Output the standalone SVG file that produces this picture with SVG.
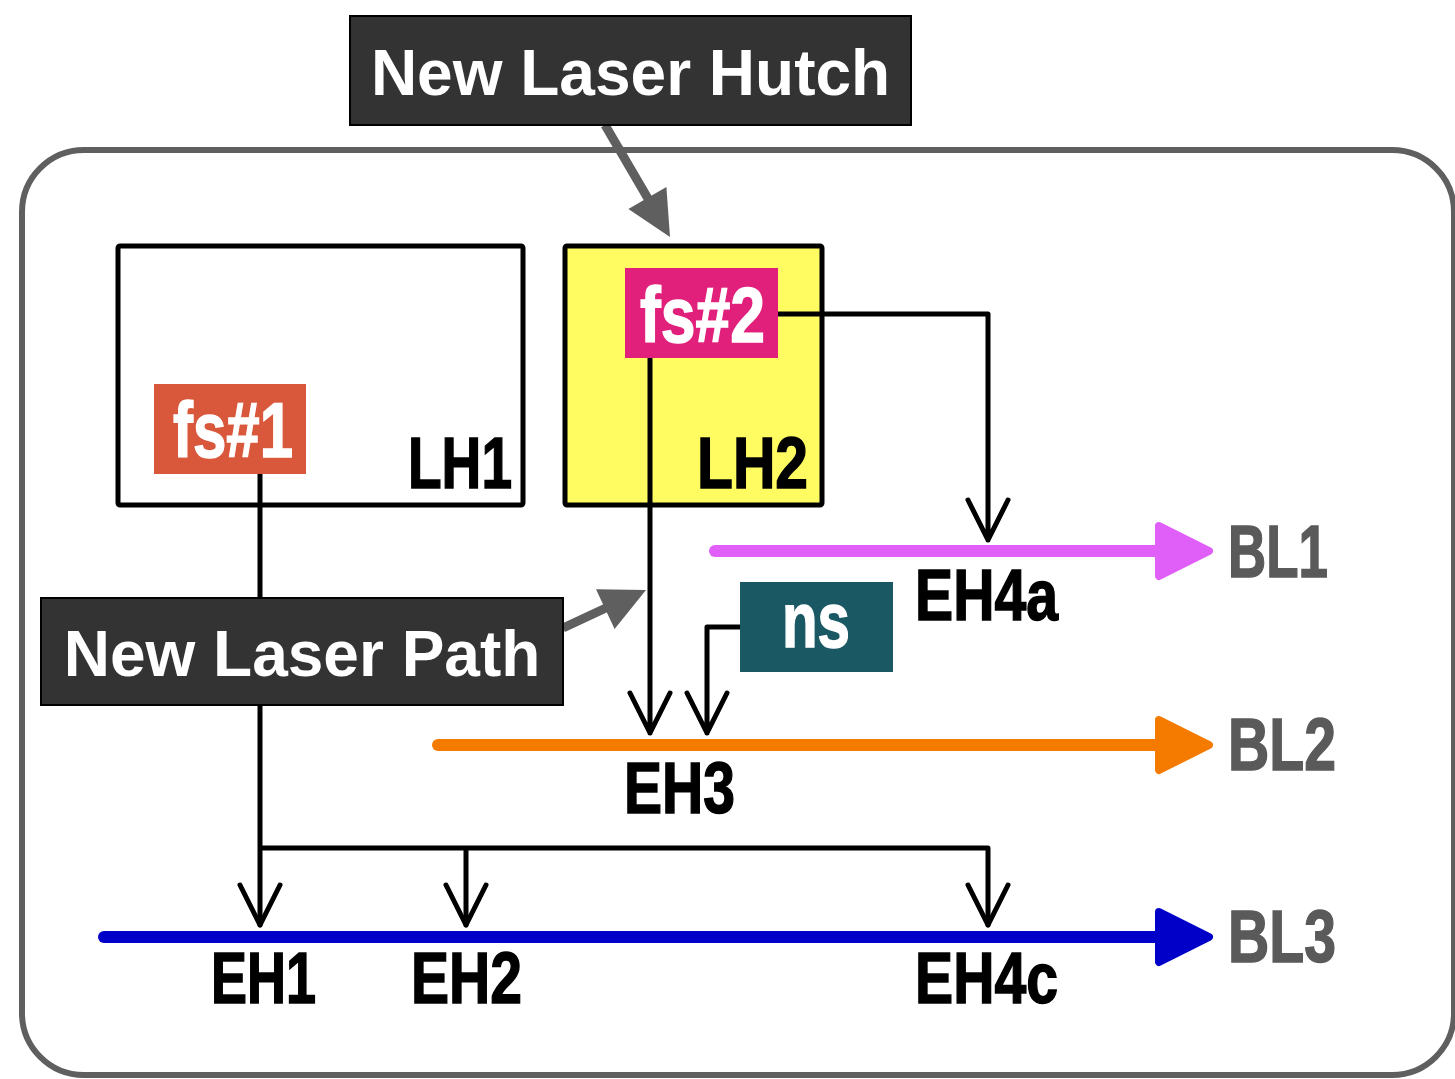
<svg xmlns="http://www.w3.org/2000/svg" width="1455" height="1079" viewBox="0 0 1455 1079">
<defs>
<style>
.frame{fill:none;stroke:#5f5f5f;stroke-width:6}
.hutch{stroke:#000;stroke-width:5}
.dark{fill:#333333;stroke:#000;stroke-width:2}
.w{fill:#fff;font-family:"Liberation Sans",Arial,sans-serif;font-weight:bold}
.c{font-family:"Liberation Sans",Arial,sans-serif;font-weight:bold;stroke-width:1.5}
.cw{stroke:#fff}
.blk{fill:#000;stroke:#000}
.gry{fill:#5a5a5a;stroke:#5a5a5a}
.ln{fill:none;stroke:#000;stroke-width:5;stroke-linecap:round;stroke-linejoin:round}
.ga{stroke:#5f5f5f;stroke-width:9;fill:none}
.gh{fill:#5f5f5f}
.bl{stroke-width:12;stroke-linecap:round;fill:none}
.bh{stroke-width:8;stroke-linejoin:round}
</style>
</defs>
<rect class="frame" x="22" y="150" width="1432" height="925" rx="62" ry="62"/>

<g id="LH1">
<rect class="hutch" x="118" y="246" width="405" height="259" rx="2" fill="#ffffff"/>
<text class="c blk" x="408" y="488" font-size="72" textLength="104" lengthAdjust="spacingAndGlyphs">LH1</text>
</g>
<g id="LH2">
<rect class="hutch" x="565" y="246" width="257" height="259" rx="2" fill="#fffc62"/>
<text class="c blk" x="697" y="488" font-size="72" textLength="111" lengthAdjust="spacingAndGlyphs">LH2</text>
</g>

<g id="connectors">
<!-- fs#1 to EH1, EH2, EH4c -->
<path class="ln" d="M260 474 V925 M260 848 H988 V925 M466 848 V925"/>
<path class="ln" d="M240 885 L260 925 L280 885 M446 885 L466 925 L486 885 M968 885 L988 925 L1008 885"/>
<!-- fs#2 to EH4a -->
<path class="ln" d="M778 314 H988 V540 M968 500 L988 540 L1008 500"/>
<!-- fs#2 to EH3 -->
<path class="ln" d="M650 358 V733 M630 693 L650 733 L670 693"/>
<!-- ns to EH3 -->
<path class="ln" d="M740 627 H707 V733 M687 693 L707 733 L727 693"/>
<!-- gray annotation arrows -->
<line class="ga" x1="605" y1="125" x2="650" y2="202"/>
<polygon class="gh" points="670,237 666.4,187.1 628.4,209.1"/>
<line class="ga" x1="563" y1="628" x2="608" y2="607"/>
<polygon class="gh" points="646,590 596,589.2 614.6,629"/>
<!-- beamlines -->
<line class="bl" stroke="#e05ff8" x1="715" y1="551" x2="1165" y2="551"/>
<polygon class="bh" fill="#e05ff8" stroke="#e05ff8" points="1159,526 1209,551 1159,576"/>
<line class="bl" stroke="#f47b00" x1="438" y1="745" x2="1165" y2="745"/>
<polygon class="bh" fill="#f47b00" stroke="#f47b00" points="1159,720 1209,745 1159,770"/>
<line class="bl" stroke="#0000c8" x1="104" y1="937" x2="1165" y2="937"/>
<polygon class="bh" fill="#0000c8" stroke="#0000c8" points="1159,912 1209,937 1159,962"/>
</g>

<g id="hutch-label">
<rect class="dark" x="350" y="16" width="561" height="109"/>
<text class="w" x="630.5" y="95" font-size="64" text-anchor="middle">New Laser Hutch</text>
</g>
<g id="path-label">
<rect class="dark" x="41" y="598" width="522" height="107"/>
<text class="w" x="302" y="676" font-size="64" text-anchor="middle">New Laser Path</text>
</g>
<g id="fs1">
<rect x="154" y="384" width="152" height="90" fill="#d9573a"/>
<text class="w c cw" x="173" y="457" font-size="78" textLength="120" lengthAdjust="spacingAndGlyphs">fs#1</text>
</g>
<g id="fs2">
<rect x="625" y="268" width="153" height="90" fill="#e0207a"/>
<text class="w c cw" x="640" y="342" font-size="78" textLength="125" lengthAdjust="spacingAndGlyphs">fs#2</text>
</g>
<g id="ns">
<rect x="740" y="582" width="153" height="90" fill="#1a5864"/>
<text class="w c cw" x="782" y="647" font-size="78" textLength="68" lengthAdjust="spacingAndGlyphs">ns</text>
</g>

<g id="EH4a"><text class="c blk" x="915" y="620" font-size="72" textLength="143" lengthAdjust="spacingAndGlyphs">EH4a</text></g>
<g id="EH3"><text class="c blk" x="624" y="813" font-size="72" textLength="111" lengthAdjust="spacingAndGlyphs">EH3</text></g>
<g id="EH1"><text class="c blk" x="211" y="1003" font-size="72" textLength="105" lengthAdjust="spacingAndGlyphs">EH1</text></g>
<g id="EH2"><text class="c blk" x="411" y="1003" font-size="72" textLength="111" lengthAdjust="spacingAndGlyphs">EH2</text></g>
<g id="EH4c"><text class="c blk" x="915" y="1003" font-size="72" textLength="143" lengthAdjust="spacingAndGlyphs">EH4c</text></g>
<g id="BL1"><text class="c gry" x="1228" y="577" font-size="74" textLength="100" lengthAdjust="spacingAndGlyphs">BL1</text></g>
<g id="BL2"><text class="c gry" x="1228" y="770" font-size="74" textLength="108" lengthAdjust="spacingAndGlyphs">BL2</text></g>
<g id="BL3"><text class="c gry" x="1228" y="962" font-size="74" textLength="108" lengthAdjust="spacingAndGlyphs">BL3</text></g>
</svg>
